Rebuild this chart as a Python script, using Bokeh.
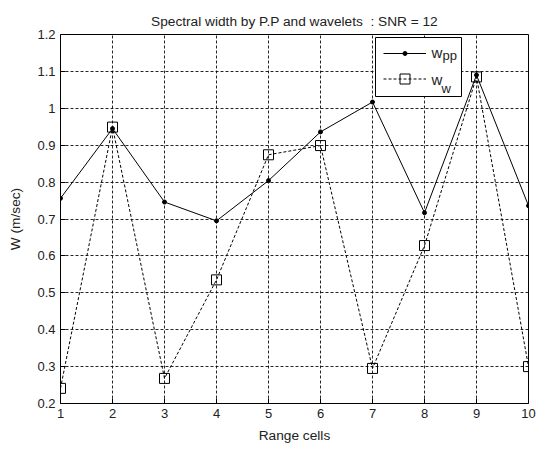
from bokeh.plotting import figure
from bokeh.models import (FixedTicker, Legend, LegendItem, Label, Range1d, BoxAnnotation)
from bokeh.embed import file_html
from bokeh.resources import INLINE

cells = [1, 2, 3, 4, 5, 6, 7, 8, 9, 10]
w_pp = [0.756, 0.945, 0.746, 0.695, 0.804, 0.936, 1.017, 0.717, 1.090, 0.736]
w_w = [0.241, 0.949, 0.268, 0.535, 0.874, 0.899, 0.295, 0.628, 1.085, 0.300]
y_ticks = [0.2, 0.3, 0.4, 0.5, 0.6, 0.7, 0.8, 0.9, 1.0, 1.1, 1.2]
y_tick_labels = ["0.2", "0.3", "0.4", "0.5", "0.6", "0.7", "0.8", "0.9", "1", "1.1", "1.2"]

FONT = "Liberation Sans"

p = figure(width=537, height=450, output_backend="svg", toolbar_location=None,
           x_range=Range1d(1, 10), y_range=Range1d(0.2, 1.2),
           min_border_left=60, min_border_right=9, min_border_top=34, min_border_bottom=47,
           title="Spectral width by P.P and wavelets \u00a0: SNR = 12")
p.background_fill_color = "white"
p.border_fill_color = "white"
p.outline_line_color = "black"
p.outline_line_width = 1
p.outline_line_alpha = 1

p.title.align = "center"
p.title.text_font = FONT
p.title.text_font_size = "13.7px"
p.title.text_font_style = "normal"
p.title.text_color = "#222222"
p.title.standoff = 12

for ax in (p.xaxis[0], p.yaxis[0]):
    ax.axis_line_color = None
    ax.major_tick_in = 5
    ax.major_tick_out = 0
    ax.minor_tick_line_color = None
    ax.major_tick_line_color = "black"
    ax.major_label_text_font = FONT
    ax.major_label_text_font_size = "13px"
    ax.major_label_text_color = "#222222"
    ax.axis_label_text_font = FONT
    ax.axis_label_text_font_size = "13.7px"
    ax.axis_label_text_font_style = "normal"
    ax.axis_label_text_color = "#222222"
    ax.major_label_standoff = 5

p.xaxis.ticker = FixedTicker(ticks=cells)
p.yaxis.ticker = FixedTicker(ticks=y_ticks)
p.yaxis.major_label_overrides = {t: l for t, l in zip(y_ticks, y_tick_labels)}
p.xaxis.axis_label = "Range cells"
p.yaxis.axis_label = "W (m/sec)"
p.yaxis.axis_label_standoff = 11
p.xaxis.axis_label_standoff = 7

p.grid.grid_line_color = "black"
p.grid.grid_line_dash = "3 2"
p.grid.grid_line_width = 1
p.grid.grid_line_alpha = 0.85

l_pp = p.line(cells, w_pp, line_color="black", line_width=1)
s_pp = p.scatter(cells, w_pp, marker="circle", size=4, fill_color="black", line_color="black")
l_w = p.line(cells, w_w, line_color="black", line_width=1, line_dash="3 2")
s_w = p.scatter(cells, w_w, marker="square", size=10, fill_color=None, line_color="black", line_width=1)

# legend frame (screen units, relative to the plot frame)
box = BoxAnnotation(left=315, right=401, top=366, bottom=307,
                    left_units="screen", right_units="screen",
                    top_units="screen", bottom_units="screen",
                    fill_color="white", fill_alpha=1,
                    line_color="black", line_width=1, line_alpha=1, level="annotation")
p.add_layout(box)

def make_legend(item, loc, gh):
    return Legend(items=[item], location=loc, glyph_width=43, glyph_height=gh,
                  label_width=1, label_height=gh, spacing=0, padding=0,
                  label_standoff=0, label_text_font_size="1px",
                  border_line_color=None, background_fill_alpha=0, margin=0)

leg1 = make_legend(LegendItem(label=" ", renderers=[l_pp, s_pp]), (323, 345), 10)
leg2 = make_legend(LegendItem(label=" ", renderers=[l_w, s_w]), (323, 312.5), 25)
p.add_layout(leg1, "center")
p.add_layout(leg2, "center")

for txt, x, y, size in [("w", 371, 351, "15px"), ("pp", 382, 347.7, "13px"),
                        ("w", 371, 323.7, "15px"), ("w", 381, 315.3, "13px")]:
    p.add_layout(Label(x=x, y=y, x_units="screen", y_units="screen", text=txt,
                       text_font=FONT, text_font_size=size, text_color="#222222",
                       text_baseline="alphabetic", level="overlay"))

open("out.html", "w").write(file_html(p, INLINE))
